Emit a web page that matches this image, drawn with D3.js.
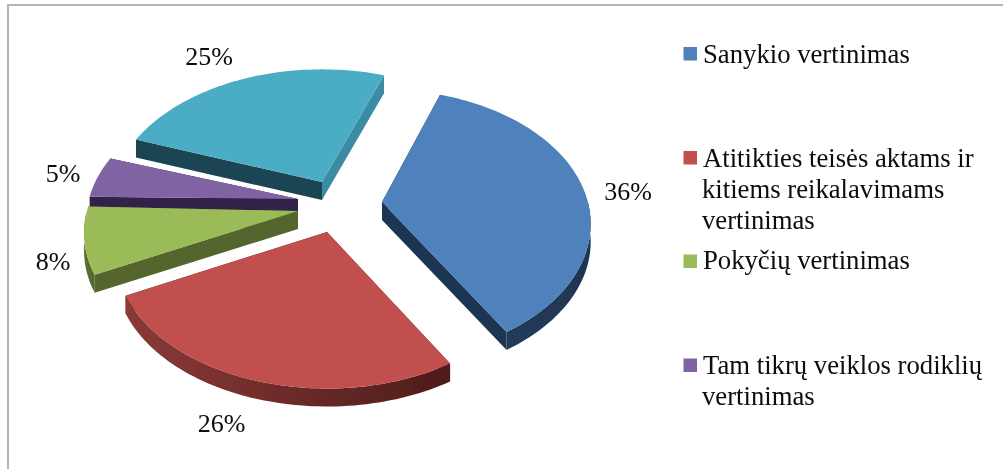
<!DOCTYPE html>
<html><head><meta charset="utf-8">
<script src="https://cdn.jsdelivr.net/npm/d3@7/dist/d3.min.js"></script>
<style>html,body{margin:0;padding:0;background:#fff}svg{display:block}text{font-family:"Liberation Serif",serif;fill:#0a0a0a}</style>
</head><body><svg id="c" width="1003" height="469"></svg>
<script>
// data
const categories = ["Sanykio vertinimas","Atitikties teisės aktams ir kitiems reikalavimams vertinimas","Pokyčių vertinimas","Tam tikrų veiklos rodiklių vertinimas","Kita"];
const values = [36,26,8,5,25];
const legendLines = [["Sanykio vertinimas"],["Atitikties teisės aktams ir","kitiems reikalavimams","vertinimas"],["Pokyčių vertinimas"],["Tam tikrų veiklos rodiklių","vertinimas"]];
// style
const topColors = ["#4f81bd","#c0504d","#9bbb59","#8064a2","#4bacc6"];
const cutColors = ["#1f3552","#4e1c1a","#55652e","#33234a","#1f4552"];
const endCutColors = ["#1f3552","#4e1c1a","#55652e","#33234a","#3b8ba3"];
const wallLeft = ["#26405f","#8b3a38","#5e7035","#3d2a55","#2d6a7d"];
const wallRight = ["#1f3552","#4e1c1a","#55652e","#33234a","#2d6a7d"];
// layout: per-slice explosion (px), turn (deg) and horizontal scale of the hand-arranged pie
const centre = {x:298, y:205};
const explode = [[84,-3],[29,27],[0,6],[0,-6],[24,-23]];
const turn = [1,2,2,1,2];
const scaleX = [0.985,1,1.01,1,1];
const drawOrder = [4,3,2,1,0];
const radiusX = 209, radiusY = 131, persp = 0.163, depth = 18;
const labelPos = [[628,200],[221.5,432],[53,270],[63,182],[209,65]];

const svg = d3.select("#c");
const defs = svg.append("defs");
defs.append("filter").attr("id","soft").append("feGaussianBlur").attr("stdDeviation",0.45);
defs.append("filter").attr("id","softText").append("feGaussianBlur").attr("stdDeviation",0.3);

svg.append("path").attr("d","M8,469V5H1003").attr("fill","none").attr("stroke","#b4b4b4").attr("stroke-width",2);

const pie = d3.pie().sort(null).startAngle(18*Math.PI/180).endAngle(378*Math.PI/180);
const arcs = pie(values);
const rad = Math.PI/180;
function project(t, sx){
  const X=Math.sin(t), Y=-Math.cos(t), w=1-persp*Y;
  return [radiusX*sx*X/w, radiusY*Y/w];
}
const line = d3.line();
const g = svg.append("g").attr("filter","url(#soft)");
drawOrder.forEach(i=>{
  const a=arcs[i], o=[centre.x+explode[i][0], centre.y+explode[i][1]];
  const n=Math.ceil((a.endAngle-a.startAngle)*40);
  const angs=d3.range(n+1).map(k=>a.startAngle+(a.endAngle-a.startAngle)*k/n+turn[i]*rad);
  const pts=angs.map(t=>{
    const p=project(t,scaleX[i]);
    return [o[0]+p[0],o[1]+p[1]];
  });
  const down=p=>[p[0],p[1]+depth];
  const first=pts[0], last=pts[n];
  const front=pts.filter((p,k)=>Math.cos(angs[k])<0);
  const sl=g.append("g");
  const gid="w"+i;
  const gr=defs.append("linearGradient").attr("id",gid).attr("gradientUnits","userSpaceOnUse")
    .attr("x1",d3.min(pts,d=>d[0])).attr("x2",d3.max(pts,d=>d[0])).attr("y1",0).attr("y2",0);
  gr.append("stop").attr("offset",0).attr("stop-color",wallLeft[i]);
  gr.append("stop").attr("offset",1).attr("stop-color",wallRight[i]);
  // cut faces
  sl.append("path").attr("d",line([o,first,down(first),down(o)])+"Z").attr("fill",cutColors[i]);
  sl.append("path").attr("d",line([o,last,down(last),down(o)])+"Z").attr("fill",endCutColors[i]);
  // outer wall
  if(front.length) sl.append("path").attr("d",line(front.concat(front.map(down).reverse()))+"Z").attr("fill",`url(#${gid})`);
  // top
  sl.append("path").attr("d",line([o].concat(pts))+"Z").attr("fill",topColors[i]);
});

const tg = svg.append("g").attr("filter","url(#softText)");
// labels
values.forEach((v,i)=>{
  tg.append("text").attr("x",labelPos[i][0]).attr("y",labelPos[i][1]).attr("text-anchor","middle")
    .attr("font-size",26).text(v+"%");
});
// legend
const legendY=[63,166.5,269,373.5], legendH=31;
legendLines.forEach((ls,i)=>{
  svg.append("rect").attr("x",683.5).attr("y",[47,151,254.5,358.5][i]).attr("width",13.5).attr("height",13.5).attr("fill",topColors[i]);
  const t=tg.append("text").attr("font-size",26.7);
  ls.forEach((s,j)=>t.append("tspan").attr("x",j==0?703:702).attr("y",legendY[i]+j*legendH).text(s));
});
</script></body></html>
